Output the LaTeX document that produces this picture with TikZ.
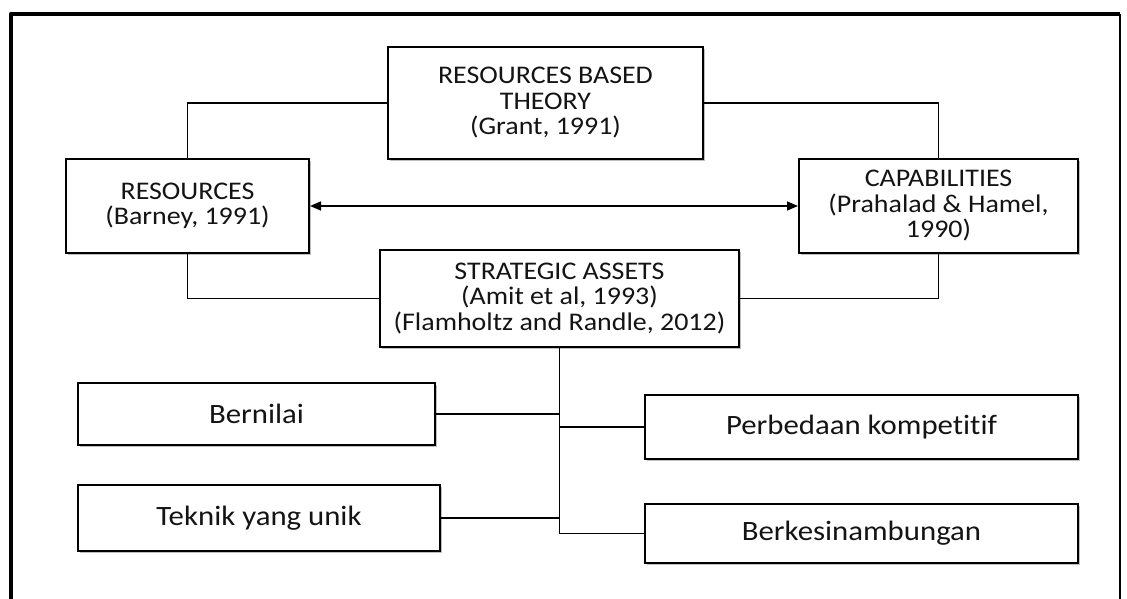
\documentclass[tikz,border=0pt]{standalone}
\usepackage{fontspec}
\setmainfont{Carlito}[FakeStretch=1.1, Ligatures={NoCommon,NoRequired,NoContextual}]
\usetikzlibrary{arrows.meta,shadows}

\begin{document}
\begin{tikzpicture}[x=1pt,y=-1pt,
  bx/.style={draw=black, line width=2pt, fill=white, align=center,
    inner sep=0pt, anchor=north west, text=black!92,
    drop shadow={shadow xshift=1.8pt, shadow yshift=-1.8pt, opacity=0.25, fill=black}},
  toptext/.style={font=\fontsize{25.4}{25.5}\selectfont},
  lowtext/.style={font=\fontsize{28}{28}\selectfont},
  link/.style={draw=black, line width=1.6pt},
  frameline/.style={draw=black, line join=round, line cap=butt}]

\useasboundingbox (0,0) rectangle (1127,599);

% outer frame, open at the bottom
\draw[frameline, line width=4.5pt] (11,605) -- (11,14) -- (1120,14);
\draw[frameline, line width=1.8pt] (1120,14) -- (1120,605);

% upper level
\node[bx, toptext, minimum width=315pt, minimum height=112pt] (rbt) at (387,46)
  {RESOURCES BASED\\THEORY\\(Grant, 1991)};
\node[bx, toptext, minimum width=243pt, minimum height=94pt] (res) at (65,158)
  {RESOURCES\\(Barney, 1991)};
\node[bx, toptext, minimum width=279pt, minimum height=94pt] (cap) at (798,158)
  {CAPABILITIES\\(Prahalad \& Hamel,\\1990)};
\node[bx, toptext, minimum width=359pt, minimum height=97pt] (sa) at (379,249)
  {STRATEGIC ASSETS\\(Amit et al, 1993)\\(Flamholtz and Randle, 2012)};

% lower level
\node[bx, lowtext, minimum width=357pt, minimum height=62pt] (bern) at (77,382) {Bernilai};
\node[bx, lowtext, minimum width=362pt, minimum height=66pt] (tek) at (77,484) {Teknik yang unik};
\node[bx, lowtext, minimum width=433pt, minimum height=64pt] (perb) at (644,394) {Perbedaan kompet\kern0pt itif};
\node[bx, lowtext, minimum width=433pt, minimum height=59pt] (berk) at (644,503) {Berkesinambungan};

% connectors
\draw[link] (rbt.west) -| (res.north);
\draw[link] (rbt.east) -| (cap.north);
\draw[link] (res.south) |- (sa.west);
\draw[link] (cap.south) |- (sa.east);
\draw[link, {Triangle[length=11pt,width=9pt]}-{Triangle[length=11pt,width=9pt]}]
  (res.east) -- (cap.west);

\draw[link] (sa.south) |- (berk.west);
\draw[link] (bern.east) -- (bern.east -| sa.south);
\draw[link] (tek.east) -- (tek.east -| sa.south);
\draw[link] (perb.west) -- (perb.west -| sa.south);

\end{tikzpicture}
\end{document}
